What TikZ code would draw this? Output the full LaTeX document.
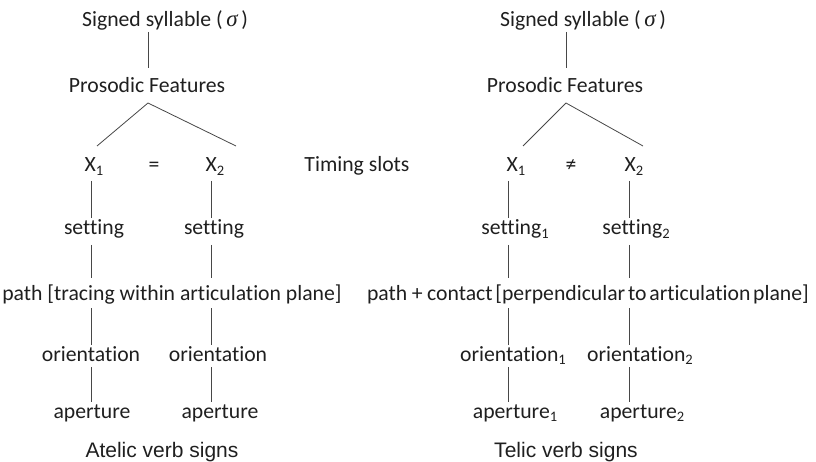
\documentclass[tikz,border=0pt]{standalone}
\usepackage{fontspec}
\setmainfont[Ligatures=NoCommon]{Carlito}
\newfontfamily\capfont{Liberation Sans}
\newfontfamily\sigfont{Liberation Serif}
\usetikzlibrary{calc}
\newcommand{\sbs}[1]{\raisebox{-0.3ex}{\fontsize{14.5}{16}\selectfont #1}}
\begin{document}
\begin{tikzpicture}[x=1pt,y=-1pt,
  lbl/.style={anchor=base,inner sep=0pt,outer sep=0pt,font=\fontsize{21.7}{25}\selectfont,text=black!88},
  capt/.style={anchor=base,inner sep=0pt,outer sep=0pt,font=\capfont\fontsize{21}{25}\selectfont,text=black!88},
  edge/.style={draw=black!72,line width=0.8pt}]
\useasboundingbox (0,0) rectangle (816,462);

% ---------- left tree ----------
\node[lbl] (sigL) at (165,27) {Signed syllable (\,{\sigfont\itshape\fontsize{23}{25}\selectfont σ}\,)};
\node[lbl] (pfL) at (147,93) {Prosodic Features};
\node[lbl] (xaL) at (94,172) {X\sbs{1}};
\node[lbl] (eqL) at (154,172) {=};
\node[lbl] (xbL) at (215,172) {X\sbs{2}};
\node[lbl] (timing) at (357,172) {Timing slots};
\node[lbl] (saL) at (94,235) {setting};
\node[lbl] (sbL) at (214,235) {setting};
\node[lbl] (pathL) at (172,300) {path [tracing within articulation plane]};
\node[lbl] (oaL) at (91,361) {orientation};
\node[lbl] (obL) at (218,361) {orientation};
\node[lbl] (aaL) at (92,418) {aperture};
\node[lbl] (abL) at (220,418) {aperture};
\node[capt] (atelic) at (162,457) {Atelic verb signs};
\coordinate (cL1) at (91,0);
\coordinate (cL2) at (211,0);

% ---------- right tree ----------
\node[lbl] (sigR) at (583,27) {Signed syllable (\,{\sigfont\itshape\fontsize{23}{25}\selectfont σ}\,)};
\node[lbl] (pfR) at (565,93) {Prosodic Features};
\node[lbl] (xaR) at (516,172) {X\sbs{1}};
\node[lbl] (neq) at (571,172) {≠};
\node[lbl] (xbR) at (634,172) {X\sbs{2}};
\node[lbl] (saR) at (515,235) {setting\sbs{1}};
\node[lbl] (sbR) at (636,235) {setting\sbs{2}};
\node[lbl] (pathR) at (588,300) {\spaceskip=2.8pt path\hspace{4.5pt}+\hspace{4.5pt}contact [perpendicular to articulation plane]};
\node[lbl] (oaR) at (513,361) {orientation\sbs{1}};
\node[lbl] (obR) at (640,361) {orientation\sbs{2}};
\node[lbl] (aaR) at (515,418) {aperture\sbs{1}};
\node[lbl] (abR) at (642,418) {aperture\sbs{2}};
\node[capt] (telic) at (566,457) {Telic verb signs};
\coordinate (cR1) at (508,0);
\coordinate (cR2) at (629,0);

% ---------- connectors, left ----------
\draw[edge] ($(sigL.base -| pfL.base)+(1pt,-5pt)$) -- ($(pfL.base)+(1pt,25pt)$);
\draw[edge] ($(xaL.base)+(3pt,26pt)$) -- ($(pfL.base)+(1pt,-10pt)$) -- ($(xbL.base)+(21pt,26pt)$);
\draw[edge] ($(xaL.base -| cL1)+(0,-9pt)$) -- ($(saL.base -| cL1)+(0,17pt)$);
\draw[edge] ($(xbL.base -| cL2)+(0,-9pt)$) -- ($(sbL.base -| cL2)+(0,17pt)$);
\draw[edge] ($(saL.base -| cL1)+(0,-10pt)$) -- ($(pathL.base -| cL1)+(0,22pt)$);
\draw[edge] ($(sbL.base -| cL2)+(0,-10pt)$) -- ($(pathL.base -| cL2)+(0,22pt)$);
\draw[edge] ($(pathL.base -| cL1)+(0,-8pt)$) -- ($(oaL.base -| cL1)+(0,16pt)$);
\draw[edge] ($(pathL.base -| cL2)+(0,-8pt)$) -- ($(obL.base -| cL2)+(0,16pt)$);
\draw[edge] ($(oaL.base -| cL1)+(0,-6pt)$) -- ($(aaL.base -| cL1)+(0,16pt)$);
\draw[edge] ($(obL.base -| cL2)+(0,-6pt)$) -- ($(abL.base -| cL2)+(0,16pt)$);

% ---------- connectors, right ----------
\draw[edge] ($(sigR.base -| pfR.base)+(1pt,-5pt)$) -- ($(pfR.base)+(1pt,25pt)$);
\draw[edge] ($(xaR.base)+(7pt,26pt)$) -- ($(pfR.base)+(1pt,-10pt)$) -- ($(xbR.base)+(9pt,26pt)$);
\draw[edge] ($(xaR.base -| cR1)+(0,-9pt)$) -- ($(saR.base -| cR1)+(0,17pt)$);
\draw[edge] ($(xbR.base -| cR2)+(0,-9pt)$) -- ($(sbR.base -| cR2)+(0,17pt)$);
\draw[edge] ($(saR.base -| cR1)+(0,-10pt)$) -- ($(pathR.base -| cR1)+(0,22pt)$);
\draw[edge] ($(sbR.base -| cR2)+(0,-10pt)$) -- ($(pathR.base -| cR2)+(0,22pt)$);
\draw[edge] ($(pathR.base -| cR1)+(0,-8pt)$) -- ($(oaR.base -| cR1)+(0,16pt)$);
\draw[edge] ($(pathR.base -| cR2)+(0,-8pt)$) -- ($(obR.base -| cR2)+(0,16pt)$);
\draw[edge] ($(oaR.base -| cR1)+(0,-6pt)$) -- ($(aaR.base -| cR1)+(0,16pt)$);
\draw[edge] ($(obR.base -| cR2)+(0,-6pt)$) -- ($(abR.base -| cR2)+(0,16pt)$);
\end{tikzpicture}
\end{document}
